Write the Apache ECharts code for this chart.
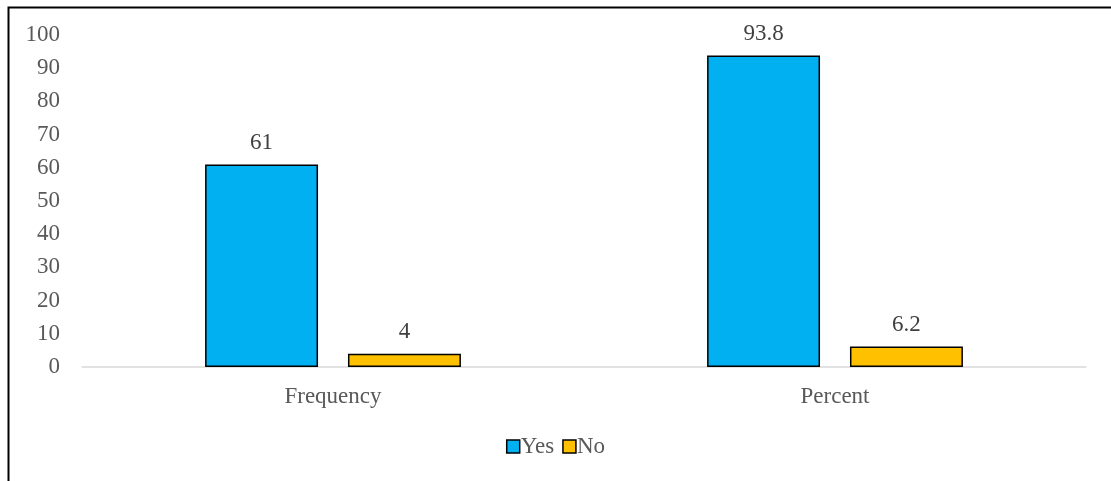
<!DOCTYPE html>
<html><head><meta charset="utf-8">
<script src="https://cdn.jsdelivr.net/npm/echarts@6/dist/echarts.min.js"></script>
<style>html,body{margin:0;padding:0;background:#fff;}#c{width:1111px;height:481px;}</style>
</head><body><div id="c"></div>
<script>
const categories = ['Frequency', 'Percent'];
const yesValues = [61, 93.8];
const noValues = [4, 6.2];
const seriesNames = ['Yes', 'No'];

const chart = echarts.init(document.getElementById('c'));
const font = "'Liberation Serif', 'Times New Roman', serif";
const fs = 23;
chart.setOption({
  animation: false,
  textStyle: { fontFamily: font },
  graphic: [{
    type: 'rect', left: 6, top: 5,
    shape: { width: 1200, height: 600 },
    style: { fill: 'none', stroke: '#000', lineWidth: 2 }, silent: true
  }],
  grid: { left: 82, right: 25, top: 35, bottom: 114, containLabel: false },
  legend: {
    bottom: 18, left: 'center', itemWidth: 13, itemHeight: 13, itemGap: 8, icon: 'rect',
    textStyle: { fontFamily: font, fontSize: fs, color: '#595959', padding: [0, 0, 0, -4] },
    itemStyle: { borderColor: '#000', borderWidth: 1.5 },
    data: seriesNames
  },
  xAxis: {
    type: 'category', data: categories,
    axisLine: { lineStyle: { color: '#d9d9d9', width: 1.5 } },
    axisTick: { show: false },
    axisLabel: { fontFamily: font, fontSize: fs, color: '#595959', margin: 18 }
  },
  yAxis: {
    type: 'value', min: 0, max: 100, interval: 10,
    axisLine: { show: false }, axisTick: { show: false },
    splitLine: { show: false },
    axisLabel: { fontFamily: font, fontSize: fs, color: '#595959', margin: 22 }
  },
  series: [
    {
      name: seriesNames[0], type: 'bar', data: yesValues,
      barWidth: '22.5%', barGap: '26.5%',
      itemStyle: { color: '#00B0F0', borderColor: '#000', borderWidth: 1.5 },
      label: { show: true, position: 'top', distance: 10, fontFamily: font, fontSize: fs, color: '#404040' }
    },
    {
      name: seriesNames[1], type: 'bar', data: noValues,
      barWidth: '22.5%',
      itemStyle: { color: '#FFC000', borderColor: '#000', borderWidth: 1.5 },
      label: { show: true, position: 'top', distance: 10, fontFamily: font, fontSize: fs, color: '#404040' }
    }
  ]
});
</script></body></html>
